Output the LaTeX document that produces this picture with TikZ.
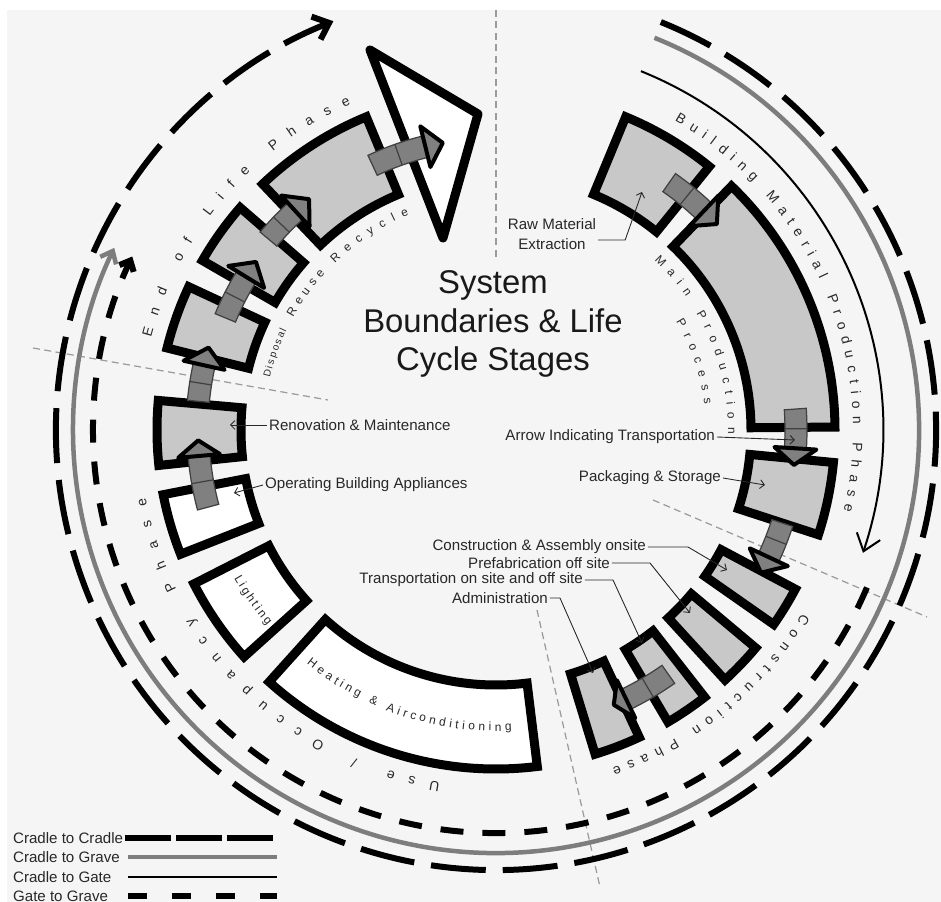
\documentclass[tikz,border=0pt]{standalone}
\usepackage{fontspec}
\setmainfont{Liberation Sans}
\usetikzlibrary{arrows.meta,decorations.text}

\definecolor{bgcol}{RGB}{245,245,245}
\definecolor{blockfill}{RGB}{200,200,200}
\definecolor{arrowfill}{RGB}{128,128,128}
\definecolor{lblcol}{RGB}{40,40,40}
\definecolor{gravecol}{RGB}{125,125,125}
\definecolor{divcol}{RGB}{155,155,155}

\newcommand{\cyctitle}{\fontsize{18.7}{22}\selectfont}
\newcommand{\cyclbl}{\fontsize{8.6}{11}\selectfont}
\newcommand{\cycphase}{\fontsize{7.9}{9}\selectfont}
\newcommand{\cycinner}{\fontsize{6.8}{8}\selectfont}
\newcommand{\cycsmall}{\fontsize{5.7}{7}\selectfont}

% one stage of the ring: fill, start angle, end angle
\newcommand{\stageblock}[3]{%
  \draw[stage,fill=#1] (#2:255) arc[start angle=#2,end angle=#3,radius=255]
    -- (#3:339) arc[start angle=#3,end angle=#2,radius=339] -- cycle;}

% grey transport arrow: tail start, head base, tip, radius
\newcommand{\transarrow}[4]{%
  \draw[transtail] ({#1}:{#4-11}) arc[start angle={#1},end angle={#2},radius={#4-11}]
    -- ({#2}:{#4+11}) arc[start angle={#2},end angle={#1},radius={#4+11}] -- cycle;
  \draw[transtail] ({(#1+#2)/2}:{#4-11}) -- ({(#1+#2)/2}:{#4+11});
  \draw[transhead] ({#2}:{#4-21}) -- ({#3}:{#4}) -- ({#2}:{#4+21}) -- cycle;}

\begin{document}
\begin{tikzpicture}[x=0.02cm,y=0.02cm,
    stage/.style={draw=black,line width=0.18cm},
    transtail/.style={fill=arrowfill,draw=black!75,line width=0.7pt},
    transhead/.style={fill=arrowfill,draw=black,line width=0.08cm,line join=round},
    leader/.style={draw=lblcol,line width=0.5pt,-{Straight Barb[length=2.5pt,width=5pt]}},
    divider/.style={draw=divcol,line width=0.7pt,dash pattern=on 4pt off 2.5pt},
    arctext/.style 2 args={decorate,decoration={text along path,text align=fit to path,
        text color=lblcol,text={|#1|#2}}},
    legendline/.style={line width=0.12cm}]

    % canvas
    \fill[white] (-496,430) rectangle (445,-472);
    \fill[bgcol] (-489,420) rectangle (445,-472);
    \useasboundingbox (-496,430) rectangle (445,-472);

    % phase dividers
    \draw[divider] (0,420) -- (0,170);
    \draw[divider] (-463,82) -- (-168,30);
    \draw[divider] (157,-70) -- (431,-187);
    \draw[divider] (41,-180) -- (104,-457);

    % system boundaries
    \draw[line width=0.12cm,dash pattern=on 1.1cm off 0.34cm,
          -{Straight Barb[length=8pt,width=14pt]}]
        (68:440) arc[start angle=68,end angle=-248.3,radius=440];
    \draw[gravecol,line width=0.09cm,-{Straight Barb[length=6pt,width=10pt]}]
        (68:423) arc[start angle=68,end angle=-205.5,radius=423];
    \draw[line width=0.04cm,-{Straight Barb[length=9pt,width=14pt]}]
        (68:387) arc[start angle=68,end angle=-18.5,radius=387];
    \draw[line width=0.12cm,dash pattern=on 0.46cm off 0.38cm,
          -{Straight Barb[length=5pt,width=9pt]}]
        (-23:403) arc[start angle=-23,end angle=-205.5,radius=403];

    % stages
    \stageblock{blockfill}{51}{67.5}
    \stageblock{blockfill}{0.5}{46}
    \stageblock{blockfill}{-18}{-5.5}
    \stageblock{blockfill}{-35}{-28}
    \stageblock{blockfill}{-47.5}{-40}
    \stageblock{blockfill}{-59.5}{-52}
    \stageblock{blockfill}{-73}{-65}
    \stageblock{white}{-132}{-83}
    \stageblock{white}{-153}{-138}
    \stageblock{white}{-169}{-158.5}
    \stageblock{blockfill}{175}{186}
    \stageblock{blockfill}{155}{166}
    \stageblock{blockfill}{139}{150}
    \stageblock{blockfill}{112.5}{133.5}
    \draw[stage,fill=white,line join=round] (-126,380) -- (-18,316) -- (-53,192) -- cycle;

    % transport between stages
    \transarrow{115}{104}{100.5}{292}
    \transarrow{140}{132.5}{129}{297}
    \transarrow{157.5}{148.5}{145}{293}
    \transarrow{174.5}{167.5}{164}{299}
    \transarrow{195}{185}{182}{298}
    \transarrow{55}{46.5}{43}{302}
    \transarrow{4}{-3.5}{-6.7}{300}
    \transarrow{-18}{-25}{-28.3}{301}
    \transarrow{-54.8}{-64.2}{-66.8}{299}

    % texts along the ring
    \path[arctext={\cycphase}{Building Material Production Phase}]
        (60:357) arc[start angle=60,end angle=-13,radius=357];
    \path[arctext={\cycphase}{End of Life Phase}]
        (165:357) arc[start angle=165,end angle=114,radius=357];
    \path[arctext={\cycphase}{Use / Occupancy Phase}]
        (-99:357) arc[start angle=-99,end angle=-169,radius=357];
    \path[arctext={\cycphase}{Construction Phase}]
        (-31:357) arc[start angle=-31,end angle=-71,radius=357];
    \path[arctext={\cycinner}{Main Production}]
        (47:232) arc[start angle=47,end angle=-1,radius=232];
    \path[arctext={\cycinner}{Process}]
        (31:210) arc[start angle=31,end angle=7,radius=210];
    \path[arctext={\cycinner}{Recycle}]
        (134:232) arc[start angle=134,end angle=112,radius=232];
    \path[arctext={\cycinner}{Reuse}]
        (151:232) arc[start angle=151,end angle=137.5,radius=232];
    \path[arctext={\cycsmall}{Disposal}]
        (167:232) arc[start angle=167,end angle=154.5,radius=232];
    \path[arctext={\cycinner}{Heating {\&} Airconditioning}]
        (-129:301) arc[start angle=-129,end angle=-87,radius=301];
    \path[arctext={\cycinner}{Lighting}]
        (-150.5:301) arc[start angle=-150.5,end angle=-139.5,radius=301];

    % title
    \node[align=center,text=black!90,font=\cyctitle] (title) at (-3,106)
        {System\\Boundaries \& Life\\Cycle Stages};

    % labelled stages
    \coordinate (rawtip) at (146,238);
    \coordinate (renotip) at (-266,5);
    \coordinate (opertip) at (-262,-63);
    \coordinate (transtip) at (299,-10);
    \coordinate (packtip) at (269,-55);
    \coordinate (constip) at (231,-140);
    \coordinate (prefabtip) at (194,-183);
    \coordinate (tosstip) at (146,-213);
    \coordinate (admintip) at (97,-243);
    \begin{scope}[every node/.style={font=\cyclbl,text=lblcol,inner sep=1pt}]
        \node[align=center] (rawlbl) at (56,196) {Raw Material\\Extraction};
        \node[anchor=west] (renolbl) at (-229,5) {Renovation \& Maintenance};
        \node[anchor=west] (operlbl) at (-233,-55) {Operating Building Appliances};
        \node[anchor=east] (translbl) at (221,-7) {Arrow Indicating Transportation};
        \node[anchor=east] (packlbl) at (227,-48) {Packaging \& Storage};
        \node[anchor=east] (conslbl) at (152,-117) {Construction \& Assembly onsite};
        \node[anchor=east] (prefablbl) at (116,-133) {Prefabrication off site};
        \node[anchor=east] (tosslbl) at (89,-150) {Transportation on site and off site};
        \node[anchor=east] (adminlbl) at (54,-168) {Administration};
    \end{scope}
    \draw[leader] (rawlbl.east) ++(0,-6) -- ++(27,0) -- (rawtip);
    \draw[leader] (renolbl.west) -- (renotip);
    \draw[leader] (operlbl.west) -- (opertip);
    \draw[leader] (translbl.east) -- (transtip);
    \draw[leader] (packlbl.east) -- (packtip);
    \draw[leader] (conslbl.east) -- ++(40,0) -- (constip);
    \draw[leader] (prefablbl.east) -- ++(38,0) -- (prefabtip);
    \draw[leader] (tosslbl.east) -- ++(28,0) -- (tosstip);
    \draw[leader] (adminlbl.east) -- ++(10,0) -- (admintip);

    % legend
    \begin{scope}[every node/.style={font=\cyclbl,text=lblcol,inner sep=1pt,anchor=west}]
        \node (lgctc) at (-485,-408) {Cradle to Cradle};
        \node (lgctg) at (-485,-427) {Cradle to Grave};
        \node (lgcgt) at (-485,-447) {Cradle to Gate};
        \node (lggtg) at (-485,-466) {Gate to Grave};
    \end{scope}
    \coordinate (lgend) at (-219,0);
    \draw[legendline,dash pattern=on 0.92cm off 0.1cm] (lgctc.east) -- (lgctc.east -| lgend);
    \draw[legendline,gravecol,line width=0.09cm] (-368,-427) -- (lgctg.east -| lgend);
    \draw[line width=0.04cm] (-368,-447) -- (lgcgt.east -| lgend);
    \draw[legendline,dash pattern=on 0.38cm off 0.5cm] (-368,-466) -- (lggtg.east -| lgend);
\end{tikzpicture}
\end{document}
